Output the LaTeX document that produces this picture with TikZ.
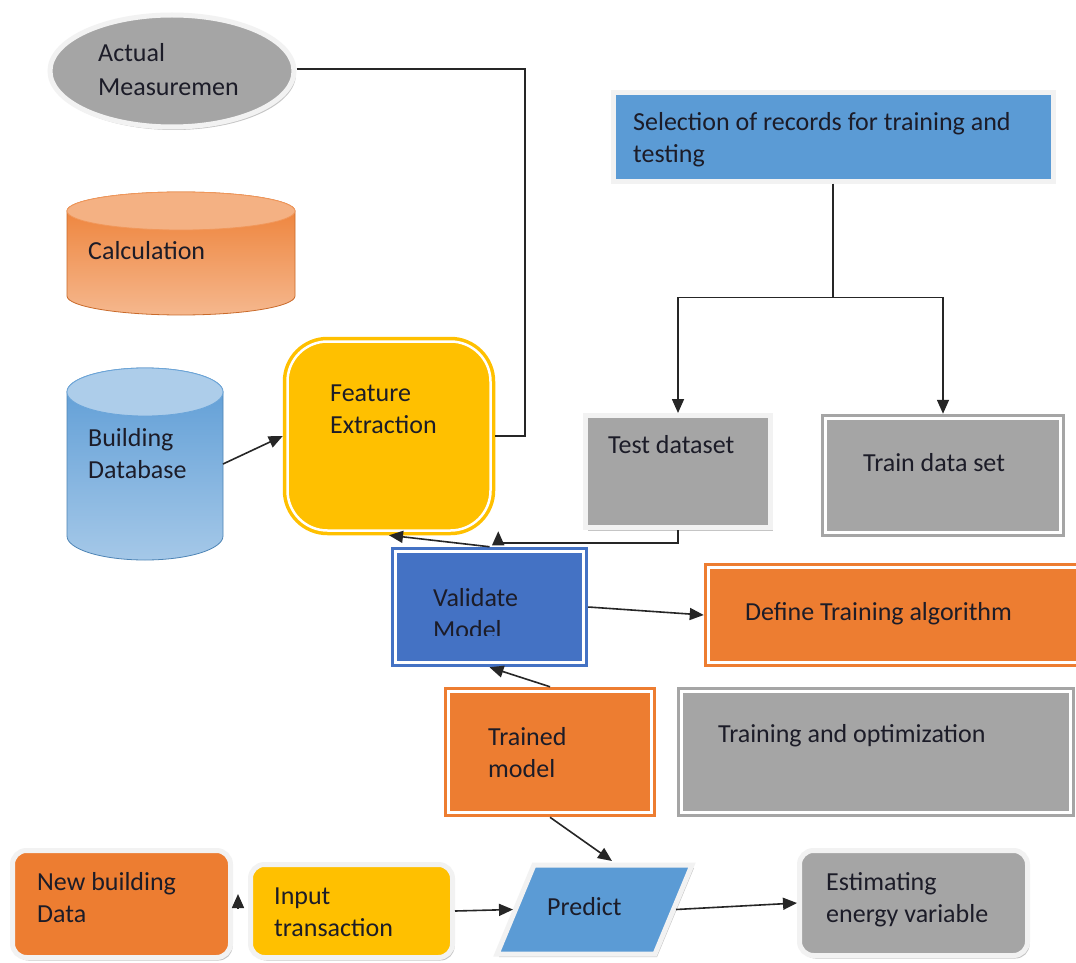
\documentclass[tikz,border=0pt]{standalone}
\usepackage{fontspec}
\setmainfont{Carlito}
\usetikzlibrary{arrows.meta,shapes.geometric,shadows,calc}
\definecolor{cOrange}{HTML}{ED7D31}
\definecolor{cBlue}{HTML}{4472C4}
\definecolor{cLBlue}{HTML}{5B9BD5}
\definecolor{cGray}{HTML}{A5A5A5}
\definecolor{cYel}{HTML}{FFC000}
\definecolor{cEdge}{HTML}{F2F2F2}
\definecolor{cTxt}{HTML}{1C1C28}
\begin{document}
\begin{tikzpicture}[x=1pt,y=-1pt,
  dbox/.style={double=white, double distance=2.5pt, line width=3.5pt, outer sep=4.75pt, inner sep=0pt},
  sbox/.style={draw=cEdge, line width=5pt, inner sep=0pt,
    drop shadow={shadow xshift=2pt, shadow yshift=-3pt, opacity=0.45}},
  lbl/.style={anchor=base west, inner sep=0pt, align=left, text=cTxt,
    font=\fontsize{26}{32}\selectfont},
  conn/.style={draw=black!85, line width=1.6pt},
  arr/.style={conn, -{Triangle[length=14pt,width=12pt]}},
]
\clip (0,0) rectangle (1076,963);
\fill[white] (0,0) rectangle (1076,963);

% Actual Measuremen
\node[ellipse, sbox, fill=cGray, minimum width=244, minimum height=112] (am) at (172,71) {};
\node[lbl, font=\fontsize{26}{34}\selectfont] (amt) at (98,96) {Actual\\Measuremen};

% Calculation cylinder
\shade[top color=cOrange, middle color=cOrange, bottom color=cOrange!55!white,
       draw=cOrange!85!black, line width=0.8pt]
  (67,211) -- (67,296) arc[start angle=180, end angle=0, x radius=114, y radius=19]
  -- (295,211) arc[start angle=0, end angle=-180, x radius=114, y radius=19] -- cycle;
\fill[cOrange!60!white, draw=cOrange!80, line width=0.8pt] (181,211) ellipse[x radius=114, y radius=19];
\node[lbl] (calc) at (88,259) {Calculation};

% Building Database cylinder
\shade[top color=cLBlue, middle color=cLBlue, bottom color=cLBlue!55!white, draw=cLBlue!85!black, line width=0.8pt]
  (67,392) -- (67,536) arc[start angle=180, end angle=0, x radius=78, y radius=24]
  -- (223,392) arc[start angle=0, end angle=-180, x radius=78, y radius=24] -- cycle;
\fill[cLBlue!50!white, draw=cLBlue!90, line width=0.8pt] (145,392) ellipse[x radius=78, y radius=24];
\node[minimum width=156, minimum height=192, inner sep=0pt, outer sep=0pt] (bdb) at (145,464) {};
\node[lbl] (bdbt) at (88,478) {Building\\Database};

% Feature Extraction
\node[dbox, rounded corners=40pt, fill=cYel, draw=cYel, minimum width=203, minimum height=189] (fe) at (389,436) {};
\node[lbl] (fet) at (330,433) {Feature\\Extraction};

% Selection
\node[sbox, fill=cLBlue, minimum width=440, minimum height=88] (sel) at (833,137) {};
\node[lbl] (selt) at (633,162) {Selection of records for training and\\testing};

% Test dataset
\node[sbox, fill=cGray, minimum width=185, minimum height=112] (test) at (678,471.5) {};
\node[lbl] (testt) at (608,453) {Test dataset};

% Train data set
\node[dbox, fill=cGray, draw=cGray, minimum width=235, minimum height=114] (train) at (943,475.5) {};
\node[lbl] (traint) at (863,471) {Train data set};

% Validate Model
\node[dbox, fill=cBlue, draw=cBlue, minimum width=188, minimum height=111] (vm) at (489.5,607) {};
\begin{scope}
\clip (395,551) rectangle (584,635);
\node[lbl] (vmt) at (433,638) {Validate\\Model};
\end{scope}

% Define Training algorithm
\node[dbox, fill=cOrange, draw=cOrange, minimum width=371, minimum height=95] (dta) at (894,615) {};
\node[lbl] (dtat) at (745,620) {Define Training algorithm};

% Trained model
\node[dbox, fill=cOrange, draw=cOrange, minimum width=203, minimum height=121] (tm) at (550,752) {};
\node[lbl] (tmt) at (488,777) {Trained\\model};

% Training and optimization
\node[dbox, fill=cGray, draw=cGray, minimum width=389, minimum height=121] (tao) at (876,752) {};
\node[lbl] (taot) at (718,742) {Training and optimization};

% New building Data
\node[sbox, rounded corners=14pt, fill=cOrange, minimum width=218, minimum height=107] (nb) at (121.5,904) {};
\node[lbl] (nbt) at (37,922) {New building\\Data};

% Input transaction
\node[sbox, rounded corners=14pt, fill=cYel, minimum width=202, minimum height=93] (it) at (351.5,911) {};
\node[lbl] (itt) at (274,936) {Input\\transaction};

% Predict (parallelogram)
\coordinate (pTL) at (534,865);
\coordinate (pTR) at (692,865);
\coordinate (pBR) at (655,954);
\coordinate (pBL) at (497,954);
\path[sbox, fill=cLBlue, line join=miter] (pTL) -- (pTR) -- (pBR) -- (pBL) -- cycle;
\coordinate (pTop) at (612,861);
\coordinate (pLeft) at (513,909.5);
\coordinate (pRight) at (676,909.5);
\node[lbl] (predt) at (547,915) {Predict};

% Estimating energy variable
\node[sbox, rounded corners=14pt, fill=cGray, minimum width=228, minimum height=105] (est) at (913.5,903) {};
\node[lbl] (estt) at (826,922) {Estimating\\energy variable};

% connectors
\coordinate (amr) at (525,69);
\draw[conn] (am.east |- amr) -- (amr) |- (fe.east);
\draw[conn] (sel.south) -- ++(0,114) coordinate (split);
\draw[arr] (split) -| (test.north);
\draw[arr] (split) -| (train.north);
\draw[arr] (test.south) |- ($(fe.south east)+(3,8)$) -- ($(fe.south east)+(3,-4)$);
\draw[arr] (bdb.east) -- (fe.west);
\draw[arr] (vm.north) -- (fe.south);
\draw[arr] (vm.east) -- (dta.west);
\draw[arr] (tm.north) -- (vm.south);
\draw[arr] (tm.south) -- (pTop);
\draw[arr] (it.east) -- (pLeft);
\draw[arr] (pRight) -- (est.west);
\draw[arr] ($(nb.east)+(5,5)$) -- ($(nb.east)+(5,-10)$);
\end{tikzpicture}
\end{document}
